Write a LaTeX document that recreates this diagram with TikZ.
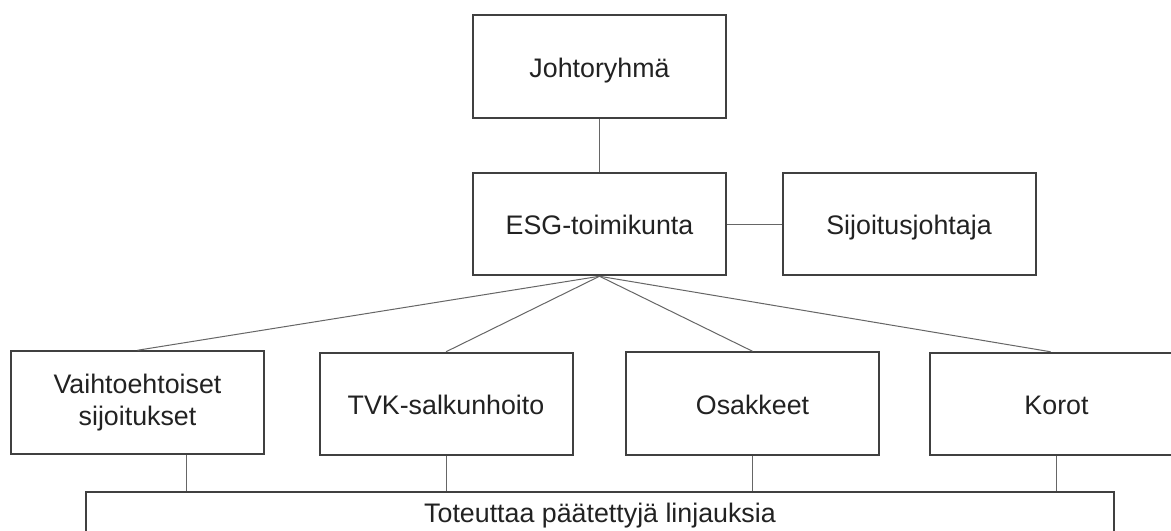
\documentclass[tikz,border=0pt]{standalone}
\usepackage{fontspec}
\setmainfont{Liberation Sans}
\definecolor{boxc}{HTML}{404040}
\definecolor{linkc}{HTML}{666666}
\definecolor{txt}{HTML}{222222}
\begin{document}
\begin{tikzpicture}[x=0.5pt,y=-0.5pt,
  orgbox/.style={draw=boxc, line width=1pt, inner sep=0pt,
    minimum width=126.5pt, minimum height=51.25pt,
    font=\fontsize{13.4}{16}\selectfont, text=txt, align=center},
  oneline/.style={orgbox, text height=10.5pt, text depth=0pt},
  lbl/.style={font=\fontsize{13.4}{16}\selectfont, text=txt},
  link/.style={draw=linkc, line width=0.5pt}]
\useasboundingbox[fill=white] (0,0) rectangle (1171,530);
\node[oneline] (J) at (599.5,66.5) {Johtoryhmä};
\node[oneline] (E) at (599.5,224) {ESG-toimikunta};
\node[oneline] (S) at (909,224) {Sijoitusjohtaja};
\node[orgbox] (V) at (137.5,402.5) {Vaihtoehtoiset\\sijoitukset};
\node[oneline] (T) at (446,404) {TVK-salkunhoito};
\node[oneline] (O) at (752.5,403.5) {Osakkeet};
\node[oneline] (K) at (1056.5,404) {Korot};
\node[orgbox, minimum width=514pt, minimum height=26pt, anchor=north] (B) at (600,491) {};
\node[lbl, anchor=base] (Bt) at (600,522) {Toteuttaa päätettyjä linjauksia};
\draw[link] (J) -- (E);
\draw[link] (E) -- (S);
\draw[link] (E.south) -- (V.north);
\draw[link] (E.south) -- (T.north);
\draw[link] (E.south) -- (O.north);
\draw[link] (E.south) -- ([xshift=-3pt]K.north);
\draw[link] ([xshift=24.5pt]V.south) -- ([xshift=24.5pt]V.south |- B.north);
\draw[link] (T.south) -- (T.south |- B.north);
\draw[link] (O.south) -- (O.south |- B.north);
\draw[link] (K.south) -- (K.south |- B.north);
\end{tikzpicture}
\end{document}
